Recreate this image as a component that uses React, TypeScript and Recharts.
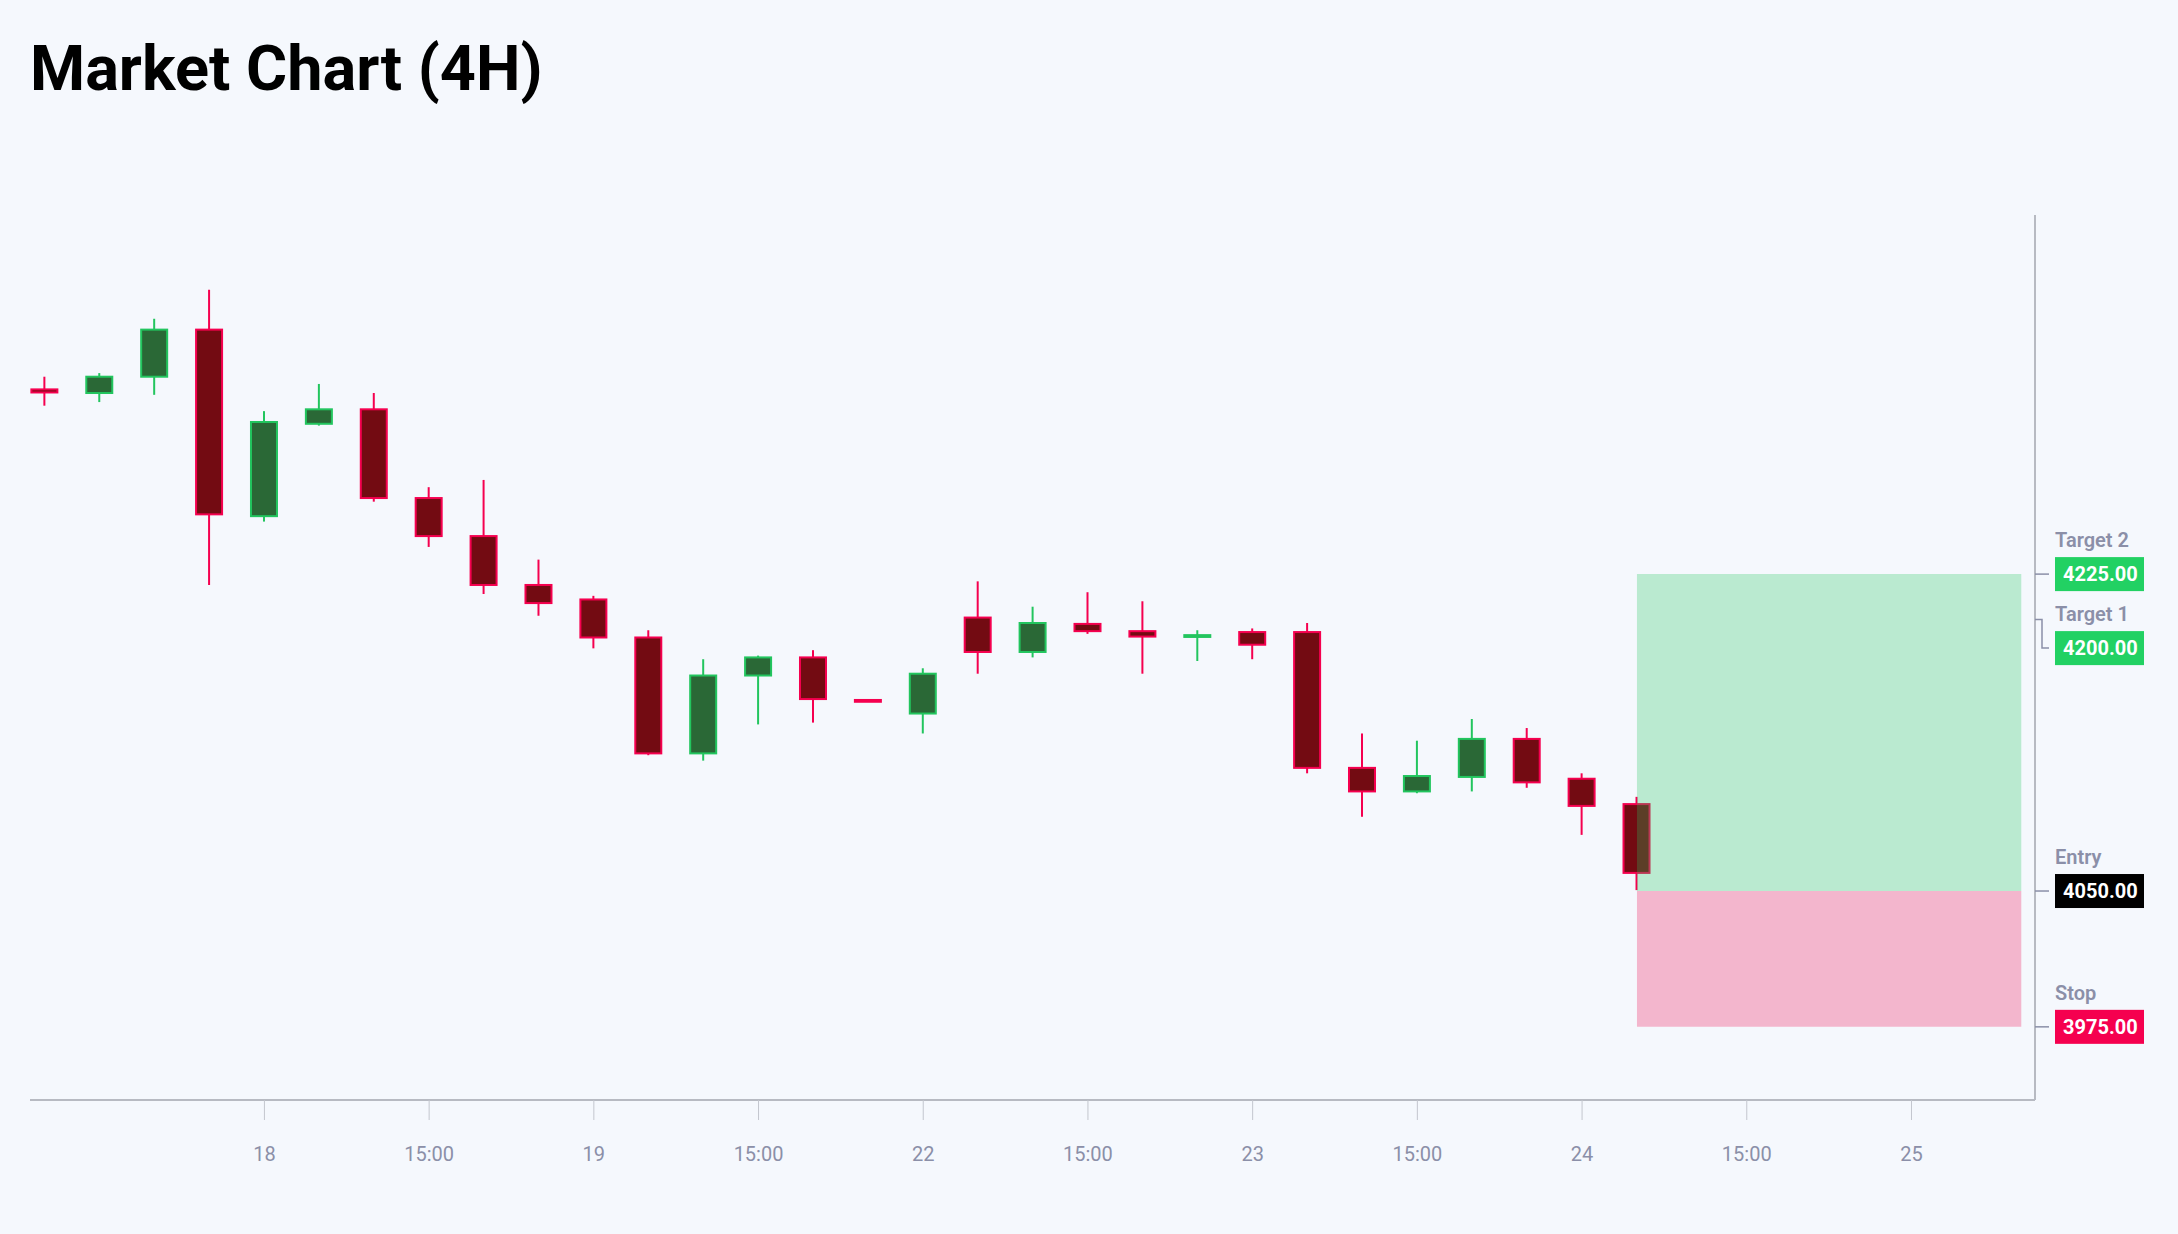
import React from "react";
import { ComposedChart, Bar, XAxis, YAxis, ReferenceArea } from "recharts";

// ---- data ----
const candleIndex = [0,1,2,3,4,5,6,7,8,9,10,11,12,13,14,15,16,17,18,19,20,21,22,23,24,25,26,27,28,29];
const opens  = [4327,4325,4334,4360,4257,4308,4316,4267,4246,4219,4211,4190,4126,4169,4179,4155.5,4148,4201,4182,4197.5,4193.5,4190.3,4193,4193,4118,4105,4113,4134,4112,4098];
const highs  = [4334,4336,4366,4382,4315,4330,4325,4273,4277,4233,4213,4194,4178,4180,4183,4155.5,4173,4221,4207,4215,4210,4194,4195,4198,4137,4133,4145,4140,4115,4102];
const lows   = [4318,4320,4324,4219,4254,4307,4265,4240,4214,4202,4184,4125,4122,4142,4143,4154.5,4137,4170,4179,4192,4170,4177,4178,4115,4091,4104,4105,4107,4081,4050.5];
const closes = [4325.3,4334,4360,4258,4309,4316,4267,4246,4219,4209,4190,4126,4169,4179,4156,4154.5,4170,4182,4198,4193.5,4190.5,4191.3,4186,4118,4105,4113.5,4134,4110,4097,4060];

const xTicks = [4,7,10,13,16,19,22,25,28,31,34];
const xTickLabels = ["18","15:00","19","15:00","22","15:00","23","15:00","24","15:00","25"];

const levelNames = ["Target 2","Target 1","Entry","Stop"];
const levelValues = [4225,4200,4050,3975];
const levelColors = ["#22d163","#22d163","#000000","#f5004f"];

const positionStart = 29;
const positionEnd = 36;
const entryPrice = 4050;
const targetPrice = 4225;
const stopPrice = 3975;

const Y_MIN = 3934.6;
const Y_MAX = 4423.3;
const X_MIN = -0.27;
const X_MAX = 36.25;

// ---- layout ----
const W = 2178;
const H = 1234;
const MARGIN = { top: 215, right: 0, bottom: 74, left: 30 };
const X_AXIS_H = 60;
const Y_AXIS_W = 143;
const PLOT_H = H - MARGIN.top - MARGIN.bottom - X_AXIS_H;
const PX_PER_UNIT = PLOT_H / (Y_MAX - Y_MIN);

const BG = "#f5f8fd";
const BULL_BODY = "#2a6836";
const BULL_LINE = "#22c55e";
const BEAR_BODY = "#730b12";
const BEAR_LINE = "#f5004f";
const AXIS = "#b7bac2";
const TICK_TEXT = "#8b8fa8";

const data = candleIndex.map((i, k) => ({
  i,
  open: opens[k],
  high: highs[k],
  low: lows[k],
  close: closes[k],
}));

const Candle = (props: any) => {
  const { x, y, width, height } = props;
  const p = props.payload ?? props;
  if (x == null || y == null) return null;
  const cx = x + width / 2;
  const range = p.high - p.low;
  const ppu = range > 0 && height > 0 ? height / range : PX_PER_UNIT;
  const toY = (v: number) => y + (p.high - v) * ppu;
  const bull = p.close >= p.open;
  const line = bull ? BULL_LINE : BEAR_LINE;
  const body = bull ? BULL_BODY : BEAR_BODY;
  const top = toY(Math.max(p.open, p.close));
  const bot = toY(Math.min(p.open, p.close));
  const bh = Math.max(bot - top, 1);
  const bw = 26;
  return (
    <g>
      <line x1={cx} x2={cx} y1={toY(p.high)} y2={toY(p.low)} stroke={line} strokeWidth={2} />
      <rect x={cx - bw / 2} y={top} width={bw} height={bh} fill={body} stroke={line} strokeWidth={2} />
    </g>
  );
};

const LevelTick = (props: any) => {
  const { x, y, payload } = props;
  const v = payload.value;
  const idx = levelValues.indexOf(v);
  if (idx < 0) return null;
  // compute label centres with collision avoidance (top-down)
  const tickYs = levelValues.map((lv) => y + (v - lv) * PX_PER_UNIT);
  const centers: number[] = [];
  tickYs.forEach((ty, k) => {
    centers.push(k === 0 ? ty : Math.max(ty, centers[k - 1] + 74));
  });
  const cy = centers[idx];
  const ty = tickYs[idx];
  const connector =
    Math.abs(cy - ty) < 0.5
      ? `M${x},${ty}H${x + 14}`
      : `M${x},${ty}H${x + 7}V${cy}H${x + 14}`;
  return (
    <g>
      <path d={connector} stroke="#8b8fa8" strokeWidth={1.5} fill="none" />
      <text x={x + 20} y={cy - 27} fill={TICK_TEXT} fontSize={20} fontWeight={600} fontFamily="Roboto, sans-serif">
        {levelNames[idx]}
      </text>
      <rect x={x + 20} y={cy - 17} width={89} height={34} fill={levelColors[idx]} />
      <text x={x + 28} y={cy + 7.3} fill="#ffffff" fontSize={20} fontWeight={700} fontFamily="Roboto, sans-serif">
        {v.toFixed(2)}
      </text>
    </g>
  );
};

export default function App() {
  return (
    <div style={{ position: "fixed", inset: 0, background: BG, overflow: "hidden" }}>
      <div
        style={{
          position: "absolute",
          left: 30,
          top: 37,
          fontFamily: "Roboto, sans-serif",
          fontWeight: 700,
          fontSize: 63,
          lineHeight: "63px",
          color: "#000",
          whiteSpace: "nowrap",
        }}
      >
        Market Chart (4H)
      </div>
      <div style={{ position: "absolute", left: 0, top: 0 }}>
        <ComposedChart width={W} height={H} data={data} margin={MARGIN}>
          <XAxis
            dataKey="i"
            type="number"
            domain={[X_MIN, X_MAX]}
            allowDataOverflow
            ticks={xTicks}
            tickFormatter={(v: number) => xTickLabels[xTicks.indexOf(v)] ?? ""}
            height={X_AXIS_H}
            tickSize={20}
            tickMargin={27}
            axisLine={{ stroke: AXIS, strokeWidth: 2 }}
            tickLine={{ stroke: "#c3c6ce", strokeWidth: 1 }}
            tick={{ fill: TICK_TEXT, fontSize: 20, fontFamily: "Roboto, sans-serif" }}
            interval={0}
          />
          <YAxis
            orientation="right"
            type="number"
            domain={[Y_MIN, Y_MAX]}
            allowDataOverflow
            ticks={levelValues}
            width={Y_AXIS_W}
            tickSize={0}
            tickMargin={0}
            tickLine={false}
            axisLine={{ stroke: AXIS, strokeWidth: 2 }}
            tick={<LevelTick />}
            interval={0}
          />
          <Bar
            dataKey={(d: any) => [d.low, d.high]}
            barSize={28}
            shape={<Candle />}
            isAnimationActive={false}
          />
          <ReferenceArea
            x1={positionStart}
            x2={positionEnd}
            y1={entryPrice}
            y2={targetPrice}
            fill="#22c55e"
            fillOpacity={0.28}
            stroke="none"
            zIndex={1000}
          />
          <ReferenceArea
            x1={positionStart}
            x2={positionEnd}
            y1={stopPrice}
            y2={entryPrice}
            fill="#f0054f"
            fillOpacity={0.27}
            stroke="none"
            zIndex={1000}
          />
        </ComposedChart>
      </div>
    </div>
  );
}
